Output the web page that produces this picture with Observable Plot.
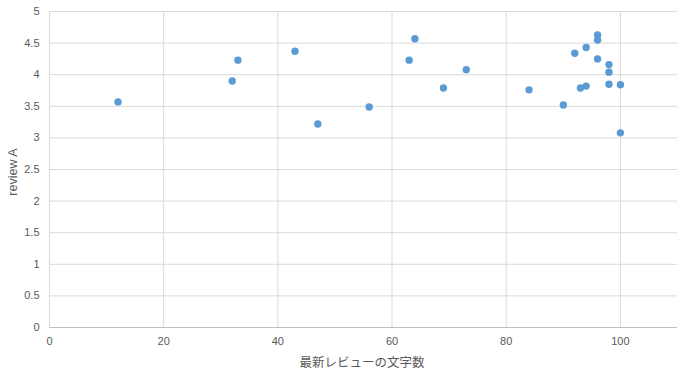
<!DOCTYPE html>
<html>
<head>
<meta charset="utf-8">
<script src="https://cdn.jsdelivr.net/npm/d3@7"></script>
<script src="https://cdn.jsdelivr.net/npm/@observablehq/plot@0.6"></script>
<style>
  html, body { margin: 0; padding: 0; background: #fff; }
  #chart { width: 688px; height: 374px; }
</style>
</head>
<body>
<div id="chart"></div>
<script>
const charCount = [12, 32, 33, 43, 47, 56, 63, 64, 69, 73, 84, 90, 92, 93, 94, 94, 96, 96, 96, 98, 98, 98, 100, 100];
const reviewA   = [3.57, 3.90, 4.23, 4.37, 3.22, 3.49, 4.23, 4.57, 3.79, 4.08, 3.76, 3.52, 4.34, 3.79, 3.82, 4.43, 4.63, 4.55, 4.25, 4.16, 4.04, 3.85, 3.84, 3.08];
const xTicks = [0, 20, 40, 60, 80, 100];
const yTicks = [0, 0.5, 1, 1.5, 2, 2.5, 3, 3.5, 4, 4.5, 5];

const data = charCount.map((c, i) => ({x: c, y: reviewA[i]}));

const chart = Plot.plot({
  width: 688,
  height: 374,
  marginLeft: 49,
  marginRight: 11,
  marginTop: 11,
  marginBottom: 47,
  style: {fontFamily: "'Liberation Sans', sans-serif", fontSize: "11px", color: "#595959", background: "#fff"},
  x: {domain: [0, 110]},
  y: {domain: [0, 5]},
  marks: [
    Plot.gridX(xTicks, {stroke: "#d9d9d9", strokeOpacity: 1}),
    Plot.gridY(yTicks, {stroke: "#d9d9d9", strokeOpacity: 1}),
    Plot.ruleY([0], {stroke: "#bfbfbf"}),
    Plot.ruleX([0], {stroke: "#d9d9d9"}),
    Plot.axisX(xTicks, {tickSize: 0, tickPadding: 10, tickFormat: d => String(d), label: null, fill: "#595959"}),
    Plot.axisY(yTicks, {tickSize: 0, tickPadding: 10, tickFormat: d => String(d), label: null, fill: "#595959"}),
    Plot.dot(data, {x: "x", y: "y", r: 3.7, fill: "#5b9bd5", stroke: null})
  ]
});

const svg = d3.select(chart);
svg.append("text")
  .attr("x", 362).attr("y", 367)
  .attr("text-anchor", "middle")
  .attr("fill", "#595959")
  .style("font-family", "'Noto Sans CJK JP', sans-serif")
  .style("font-size", "12.5px")
  .text("最新レビューの文字数");
svg.append("text")
  .attr("transform", "translate(17,172) rotate(-90)")
  .attr("text-anchor", "middle")
  .attr("fill", "#595959")
  .style("font-family", "'Liberation Sans', sans-serif")
  .style("font-size", "12.5px")
  .text("review A");

document.getElementById("chart").appendChild(chart);
</script>
</body>
</html>
